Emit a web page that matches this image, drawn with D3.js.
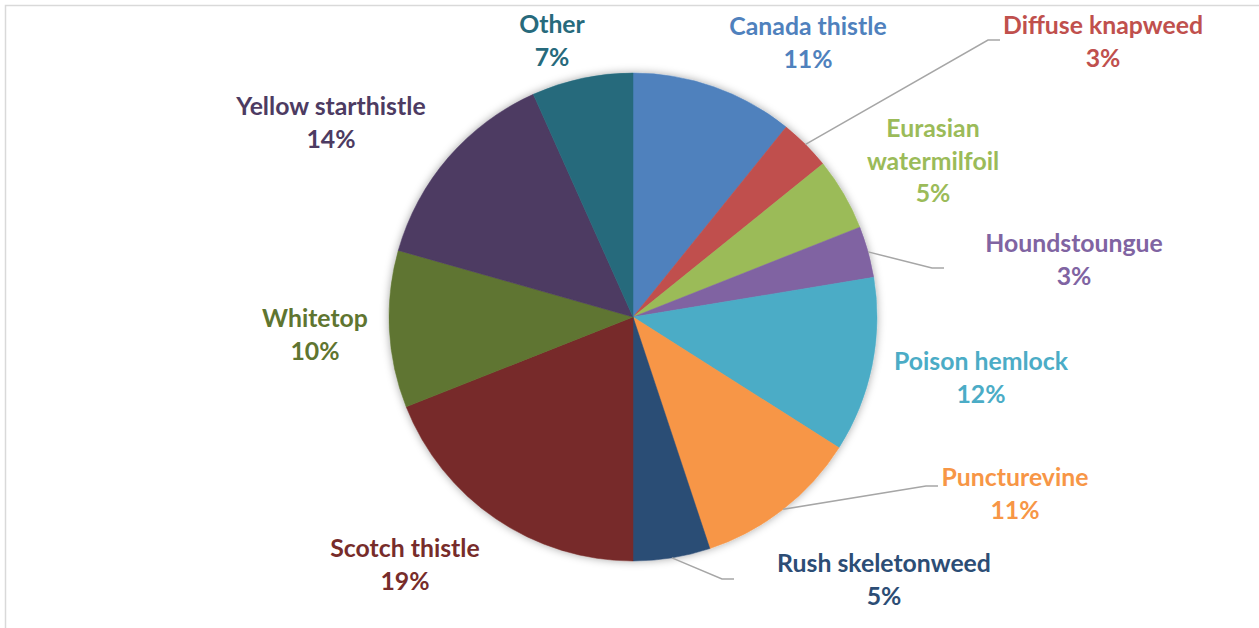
<!DOCTYPE html>
<html>
<head>
<meta charset="utf-8">
<script src="https://cdn.jsdelivr.net/npm/d3@7"></script>
<style>
  body { margin: 0; background: #fff; }
  svg { display: block; }
  .lbl { font-family: Lato, "Open Sans", sans-serif; font-weight: 700; font-size: 24.8px; }
</style>
</head>
<body>
<div class="chart"></div>
<script>
// data (percent of total)
const species = ["Canada thistle", "Diffuse knapweed", "Eurasian watermilfoil", "Houndstoungue",
  "Poison hemlock", "Puncturevine", "Rush skeletonweed", "Scotch thistle", "Whitetop",
  "Yellow starthistle", "Other"];
const shares = [10.8, 3.4, 4.8, 3.4, 11.6, 10.9, 5.1, 19.0, 10.4, 13.9, 6.7];
const colors = ["#4F81BD", "#C0504D", "#9BBB59", "#8064A2", "#4BACC6", "#F79646",
  "#2C4D75", "#772C2A", "#5F7530", "#4D3B62", "#276A7C"];

// layout: label offset from pie centre (x centre, first baseline), optional leader end
const labelOffset = [[175, -282], [470, -283], [300, -180], [441, -65], [348, 53], [382, 169],
  [251, 255], [-228, 240], [-318, 10], [-302, -202], [-81, -284]];
const leaderEnd = [null, [367, -277], null, [311, -49], null, [305, 169], [101, 262], null, null, null, null];
const wrapped = new Set(["Eurasian watermilfoil"]);

const w = 1259, h = 628;
const cx = 633, cy = 317, radius = 244;
const lineH = 32.5;

const svg = d3.select(".chart").append("svg")
  .attr("width", w).attr("height", h);

// frame
svg.append("rect")
  .attr("x", 5.5).attr("y", 5.5)
  .attr("width", w + 10).attr("height", h + 10)
  .style("fill", "none").style("stroke", "#d9d9d9").style("stroke-width", 1.5);

const defs = svg.append("defs");
const shadow = defs.append("filter").attr("id", "shadow")
  .attr("x", "-10%").attr("y", "-10%").attr("width", "120%").attr("height", "120%");
shadow.append("feDropShadow")
  .attr("dx", 0).attr("dy", 0).attr("stdDeviation", 4)
  .attr("flood-color", "#000").attr("flood-opacity", 0.35);

const data = species.map((s, i) => ({name: s, value: shares[i], color: colors[i], i: i}));

const pie = d3.pie().value(d => d.value).sort(null);
const arc = d3.arc().innerRadius(0).outerRadius(radius);
const edge = d3.arc().innerRadius(radius).outerRadius(radius);
const arcs = pie(data);

const g = svg.append("g").attr("transform", `translate(${cx},${cy})`);

g.append("g").attr("filter", "url(#shadow)")
  .selectAll("path").data(arcs).enter()
  .append("path")
  .attr("d", arc)
  .style("fill", d => d.data.color)
  .style("stroke", d => d.data.color)
  .style("stroke-width", 0.5);

// leader lines
const line = d3.line();
g.selectAll(".leader").data(arcs.filter(d => leaderEnd[d.index])).enter()
  .append("path")
  .attr("class", "leader")
  .attr("d", d => {
    const p0 = edge.centroid(d);
    const e = leaderEnd[d.index];
    return line([p0, [e[0] - 12, e[1]], e]);
  })
  .style("fill", "none").style("stroke", "#a6a6a6").style("stroke-width", 1.5);

// labels
const fmt = v => Math.round(v) + "%";
const labels = g.selectAll(".lbl").data(arcs).enter()
  .append("text")
  .attr("class", "lbl")
  .attr("text-anchor", "middle")
  .style("fill", d => d.data.color)
  .attr("transform", d => `translate(${labelOffset[d.index][0]},${labelOffset[d.index][1]})`);

labels.each(function(d) {
  const lines = wrapped.has(d.data.name) ? d.data.name.split(" ") : [d.data.name];
  lines.push(fmt(d.data.value));
  d3.select(this).selectAll("tspan").data(lines).enter()
    .append("tspan")
    .attr("x", 0)
    .attr("y", (t, k) => k * lineH)
    .text(t => t);
});
</script>
</body>
</html>
